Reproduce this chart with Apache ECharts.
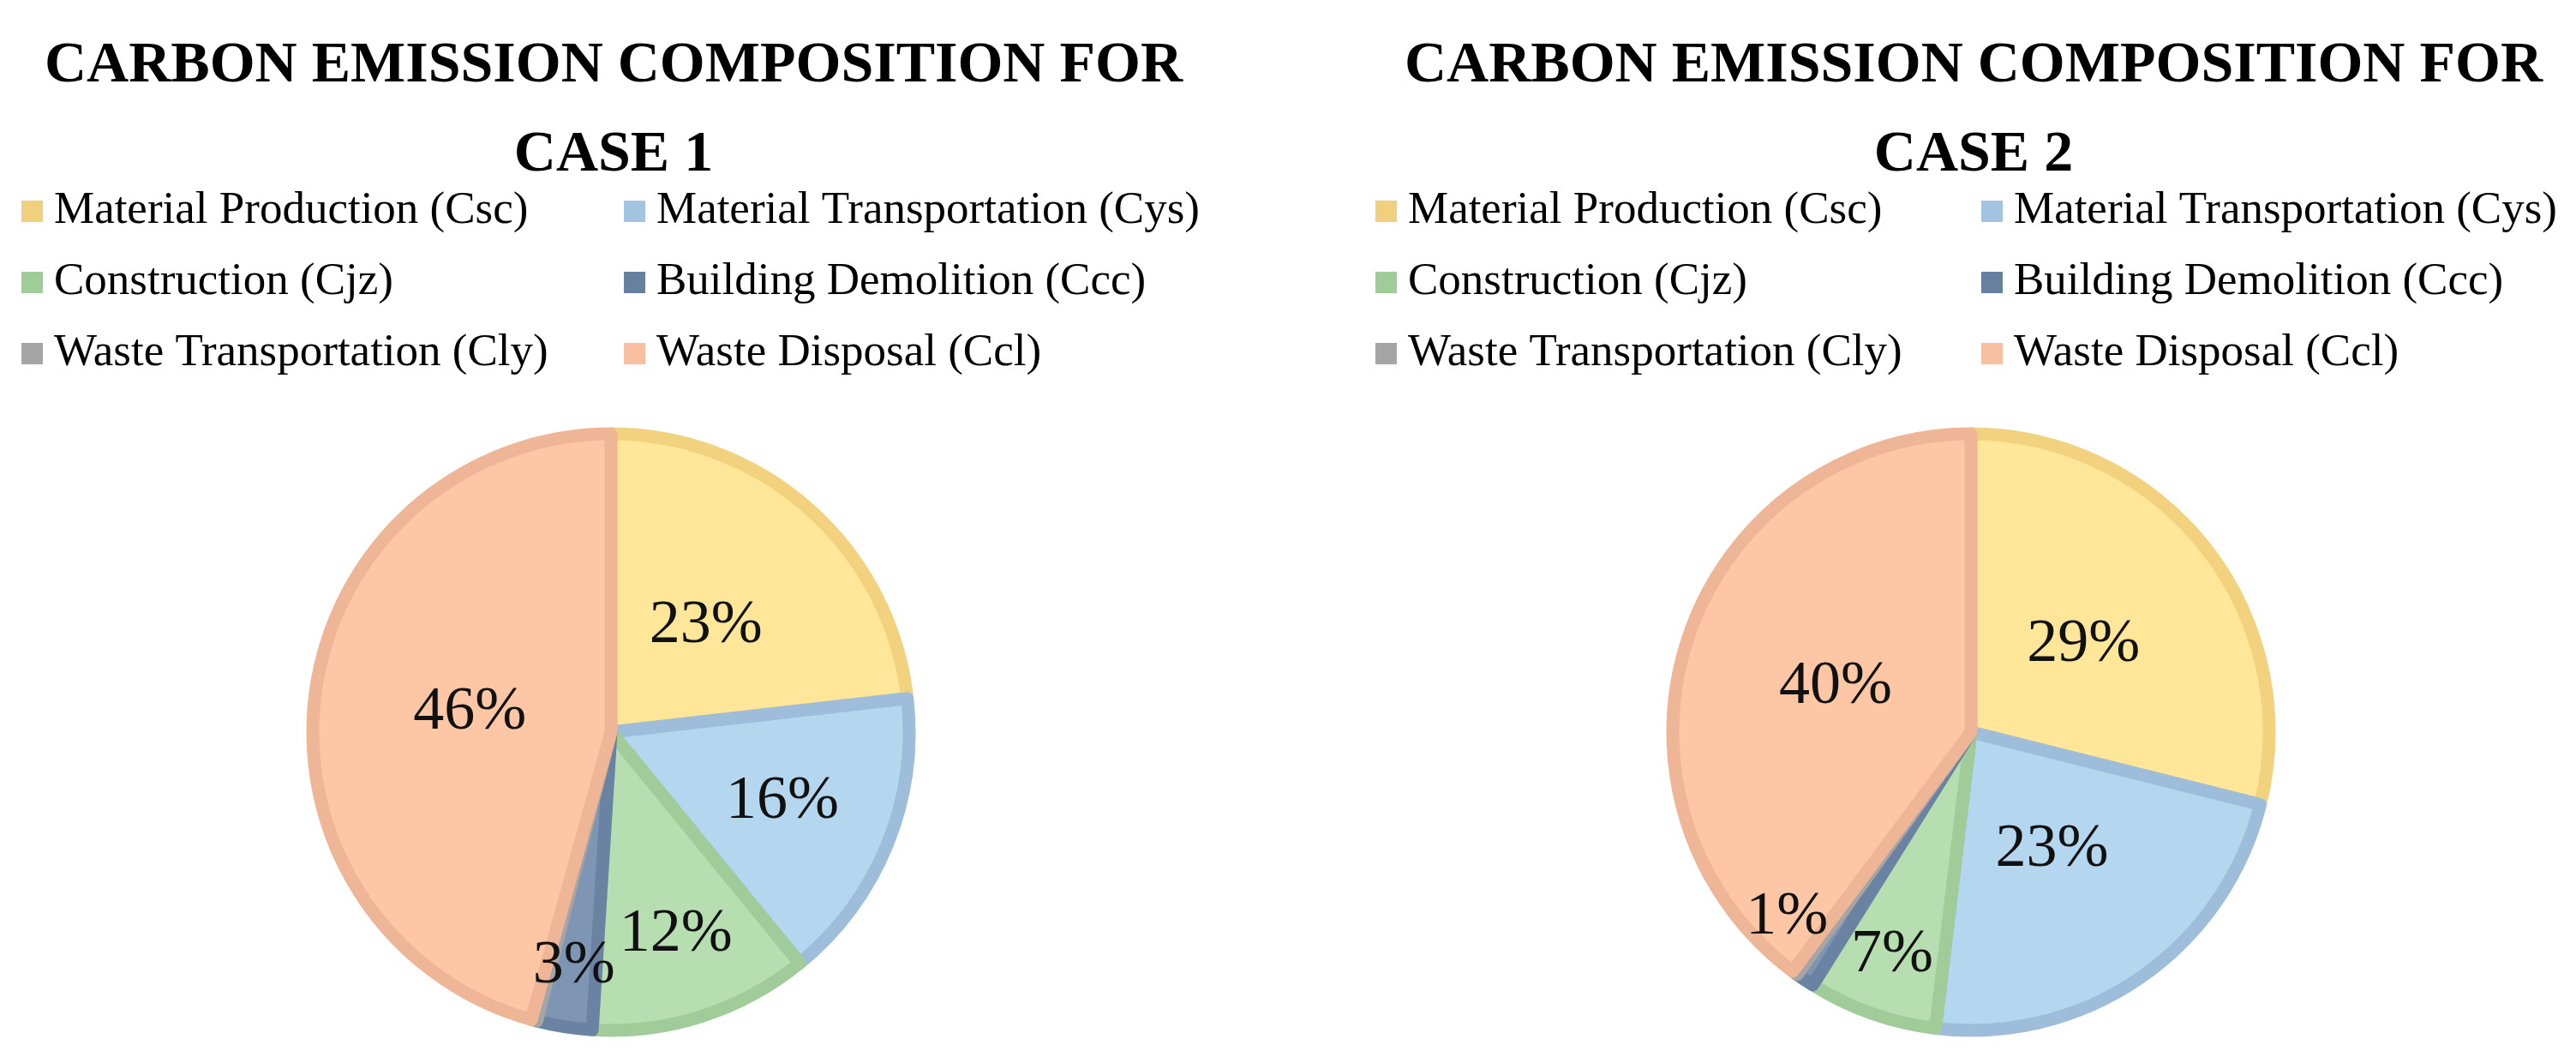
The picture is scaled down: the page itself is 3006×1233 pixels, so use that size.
<!DOCTYPE html>
<html>
<head>
<meta charset="utf-8">
<script src="https://cdn.jsdelivr.net/npm/echarts@6/dist/echarts.min.js"></script>
<style>
html,body{margin:0;padding:0;background:#fff;}
#chart{width:3006px;height:1233px;}
</style>
</head>
<body>
<div id="chart"></div>
<script>
const categories = ['Material Production (Csc)', 'Material Transportation (Cys)', 'Construction (Cjz)', 'Building Demolition (Ccc)', 'Waste Transportation (Cly)', 'Waste Disposal (Ccl)'];
const case1Values = [23.2, 15.9, 11.9, 3.0, 0.3, 45.7];
const case2Values = [28.9, 23.0, 7.0, 1.0, 0.3, 39.8];
const titles = ['CARBON EMISSION COMPOSITION FOR\nCASE 1', 'CARBON EMISSION COMPOSITION FOR\nCASE 2'];

const fillColors = ['#FFE699', '#B4D6EF', '#B6DEB0', '#7E95B3', '#BFBFBF', '#FDC7A6'];
const borderColors = ['#F2D17F', '#9DBDDA', '#A1CB99', '#6B83A2', '#A5A5A5', '#EFB597'];
const legendColors = ['#F0CF7D', '#A2C4E0', '#A0CC98', '#67809F', '#A5A5A5', '#F8C0A0'];

const FONT = 'Liberation Serif';
const R = 348;
const centers = [[713, 854], [2300, 854]];

function labelFrac(p) {
  if (p >= 20) return 0.47;
  if (p >= 14) return 0.61;
  if (p >= 10) return 0.70;
  if (p >= 2) return 0.78;
  return 0.86;
}
function labelTurn(p) {
  // tiny slices: label is pushed sideways (clockwise) off the sliver
  return p < 2 ? 11 : 0;
}

function makePie(values, idx) {
  const c = centers[idx];
  const data = categories.map((n, i) => ({
    name: n,
    value: values[i],
    itemStyle: { color: fillColors[i], borderColor: borderColors[i], borderWidth: 15 }
  }));
  return {
    type: 'pie',
    center: c,
    radius: [0, R],
    startAngle: 90,
    clockwise: true,
    avoidLabelOverlap: false,
    silent: true,
    data: data,
    label: {
      show: true,
      position: 'inside',
      fontFamily: FONT,
      fontSize: 72,
      color: '#111',
      formatter: function (p) {
        return p.percent < 0.5 ? '' : Math.round(p.percent) + '%';
      }
    },
    labelLine: { show: false },
    labelLayout: function (params) {
      const r = params.labelRect;
      const lx = r.x + r.width / 2, ly = r.y + r.height / 2;
      const p = values[params.dataIndex];
      const vx = lx - c[0], vy = ly - c[1];
      const d = Math.sqrt(vx * vx + vy * vy);
      const a = Math.atan2(vy, vx) + labelTurn(p) * Math.PI / 180;
      const nd = d * labelFrac(p) / 0.5;
      return { dx: c[0] + nd * Math.cos(a) - lx, dy: c[1] + nd * Math.sin(a) - ly };
    },
    emphasis: { disabled: true }
  };
}

function makeLegend(left, items) {
  return {
    orient: 'vertical',
    left: left,
    top: 215,
    icon: 'rect',
    itemWidth: 25,
    itemHeight: 25,
    itemGap: 30,
    selectedMode: false,
    itemStyle: { borderWidth: 0 },
    textStyle: { fontFamily: FONT, fontSize: 53, lineHeight: 53, color: '#000', padding: [0, 0, 0, 8] },
    data: items.map(i => ({ name: categories[i], itemStyle: { color: legendColors[i], borderWidth: 0 } }))
  };
}

const chart = echarts.init(document.getElementById('chart'));
chart.setOption({
  backgroundColor: '#fff',
  animation: false,
  title: titles.map((t, i) => ({
    text: t,
    left: centers[i][0] - 2,
    top: 20,
    textAlign: 'center',
    textStyle: { fontFamily: FONT, fontWeight: 'bold', fontSize: 68, lineHeight: 104, color: '#000' }
  })),
  legend: [
    makeLegend(20, [0, 2, 4]),
    makeLegend(723, [1, 3, 5]),
    makeLegend(1600, [0, 2, 4]),
    makeLegend(2307, [1, 3, 5])
  ],
  series: [makePie(case1Values, 0), makePie(case2Values, 1)]
});
</script>
</body>
</html>
